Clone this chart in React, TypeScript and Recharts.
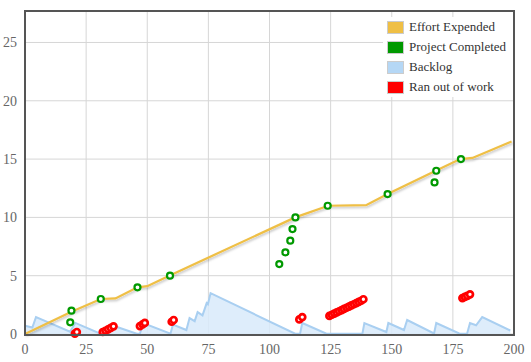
import { ComposedChart, Area, Line, Scatter, XAxis, YAxis, CartesianGrid } from 'recharts';

// [effort, value] pairs
const effortExpended = [
  [0, 0], [19, 1.9], [31, 3], [37, 3.05], [46, 4], [50, 4.1], [59, 5],
  [110.5, 10], [124, 11], [139.5, 11.05], [148.3, 12], [168, 14], [178, 15],
  [183, 15.1], [199, 16.5],
];

const projectCompleted = [
  [18.5, 1], [19, 2], [31, 3], [46, 4], [59.3, 5], [104, 6], [106.5, 7],
  [108.5, 8], [109.4, 9], [110.6, 10], [123.8, 11], [148.3, 12], [167.5, 13],
  [168.2, 14], [178.3, 15],
];

const backlog = [
  [0, 0.7], [3, 0.55], [4.5, 1.45], [18.4, 0.2], [20.6, 0.95], [30.6, 0.05],
  [32, 0.05], [35.5, 0.75], [45.7, 0.02], [47, 0.02], [48.3, 0.94], [59.5, 0.02],
  [60.5, 0.8], [66, 0.34], [67.3, 1.37], [69.4, 1.1], [70.6, 1.88], [72.6, 1.6],
  [74.3, 2.65], [74.8, 2.55], [75.9, 3.5], [110.5, 0.02], [112.5, 0.02],
  [113.4, 0.94], [123.3, 0.02], [138, 0.02], [138.8, 0.94], [147.8, 0.17],
  [148.6, 0.94], [155, 0.34], [156.3, 1.2], [167.3, 0.05], [168.2, 0.94],
  [177.6, 0.05], [180.8, 0.02], [182, 0.94], [184.5, 0.75], [187, 1.45],
  [198.5, 0.3],
];

const ranOutOfWork = [
  [20.4, 0.03], [21.2, 0.17],
  [31.8, 0.17], [32.9, 0.28], [34, 0.4], [35.1, 0.52], [36.2, 0.66],
  [47, 0.68], [48.1, 0.83], [49, 0.95],
  [60, 1.05], [60.8, 1.2],
  [112.2, 1.25], [113.4, 1.45],
  [124.5, 1.55], [125.5, 1.65], [126.5, 1.75], [127.5, 1.85], [128.5, 1.95],
  [129.5, 2.05], [130.5, 2.15], [131.5, 2.25], [132.5, 2.35], [133.5, 2.45],
  [134.5, 2.55], [135.5, 2.65], [136.5, 2.75], [137.5, 2.85], [138.4, 2.98],
  [178.9, 3.08], [179.9, 3.18], [180.9, 3.27], [182, 3.4],
];

const xTicks = [0, 25, 50, 75, 100, 125, 150, 175, 200];
const yTicks = [0, 5, 10, 15, 20, 25];

const legendItems = [
  { name: 'Effort Expended', color: '#efbf45' },
  { name: 'Project Completed', color: '#009900' },
  { name: 'Backlog', color: '#b5d7f5' },
  { name: 'Ran out of work', color: '#ff0000' },
];

const toPoints = (pairs: number[][]) => pairs.map(([x, y]) => ({ x, y }));

const font = '"Liberation Serif", "Times New Roman", serif';

export default function App() {
  const tick = { fill: '#666', fontSize: 14, fontFamily: font, style: { fontFamily: font } };

  return (
    <div style={{ position: 'absolute', left: 0, top: 0, width: 531, height: 362, background: '#fff', fontFamily: font }}>
      <ComposedChart
        width={531}
        height={362}
        margin={{ top: 11, right: 17, bottom: 0, left: 0 }}
        style={{ fontFamily: font }}
      >
        <defs>
          <filter id="lineShadow" x="-5%" y="-10%" width="110%" height="130%">
            <feDropShadow dx="1" dy="1.5" stdDeviation="0.8" floodColor="#000" floodOpacity="0.25" />
          </filter>
        </defs>
        <CartesianGrid stroke="#d6d6d6" />
        <XAxis
          dataKey="x"
          type="number"
          domain={[0, 200]}
          ticks={xTicks}
          height={28}
          tickLine={false}
          axisLine={false}
          tick={tick}
          tickMargin={4}
        />
        <YAxis
          type="number"
          domain={[0, 27.7]}
          ticks={yTicks}
          width={25}
          tickLine={false}
          axisLine={false}
          tick={tick}
        />
        <Area
          data={toPoints(backlog)}
          dataKey="y"
          type="linear"
          stroke="#a9cff1"
          strokeWidth={2}
          fill="#d8eafa"
          fillOpacity={0.85}
          isAnimationActive={false}
        />
        <Line
          data={toPoints(effortExpended)}
          dataKey="y"
          type="linear"
          stroke="#efbf45"
          strokeWidth={2.2}
          dot={false}
          filter="url(#lineShadow)"
          isAnimationActive={false}
        />
        <Scatter
          data={toPoints(projectCompleted)}
          dataKey="y"
          isAnimationActive={false}
          shape={(p: any) => <circle cx={p.cx} cy={p.cy} r={3} fill="#fff" stroke="#009900" strokeWidth={2.2} />}
        />
        <Scatter
          data={toPoints(ranOutOfWork)}
          dataKey="y"
          isAnimationActive={false}
          shape={(p: any) => <circle cx={p.cx} cy={p.cy} r={3} fill="#fff" stroke="#ff0000" strokeWidth={2.7} />}
        />
      </ComposedChart>

      <div
        style={{
          position: 'absolute', left: 24, top: 10, width: 491, height: 326,
          boxSizing: 'border-box', border: '2px solid #555', pointerEvents: 'none',
        }}
      />

      <div style={{ position: 'absolute', left: 383, top: 17, width: 130, background: '#fff' }}>
        {legendItems.map((item) => (
          <div key={item.name} style={{ display: 'flex', alignItems: 'center', height: 20 }}>
            <span
              style={{
                display: 'inline-block', width: 15, height: 11, marginLeft: 4,
                background: item.color, border: '1px solid #ccc',
              }}
            />
            <span style={{ marginLeft: 5, fontSize: 13, color: '#333' }}>{item.name}</span>
          </div>
        ))}
      </div>
    </div>
  );
}
